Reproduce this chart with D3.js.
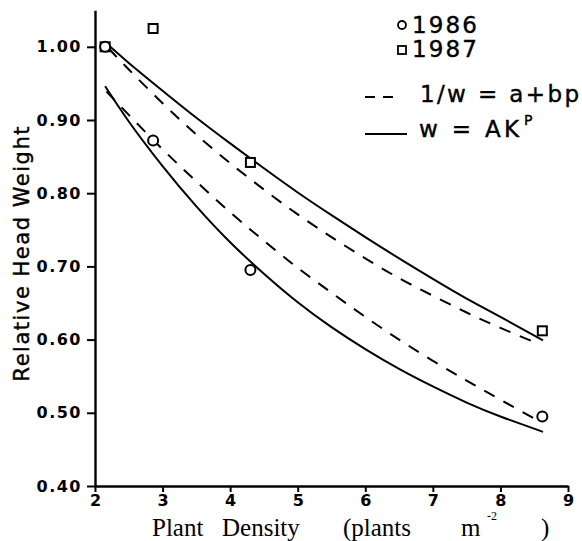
<!DOCTYPE html>
<html><head><meta charset="utf-8">
<script src="https://cdn.jsdelivr.net/npm/d3@7"></script>
<style>
body{margin:0;background:#fff;}
svg{display:block;}
</style></head>
<body>
<svg id="chart" width="582" height="541"></svg>
<script>
// ---- data ----
const densities = [2.15, 2.86, 4.30, 8.62];           // plants m^-2
const obs1986 = [1.000, 0.872, 0.695, 0.495];          // circles
const obs1987 = [1.000, 1.025, 0.842, 0.612];          // squares

// fitted curves (at these densities)
const fitDash1987X = [2.20, 2.5, 3, 3.5, 4, 4.5, 5, 5.5, 6, 6.5, 7, 7.5, 8, 8.57];
const fitDash1987Y = [0.998, 0.969, 0.923, 0.880, 0.841, 0.805, 0.771, 0.740, 0.711, 0.684, 0.660, 0.637, 0.616, 0.594];
const fitSolid1987X = [2.20, 2.5, 3, 3.5, 4, 4.5, 5, 5.5, 6, 6.5, 7, 7.5, 8, 8.63];
const fitSolid1987Y = [1.002, 0.978, 0.940, 0.903, 0.868, 0.834, 0.801, 0.770, 0.740, 0.711, 0.683, 0.656, 0.631, 0.599];
const fitDash1986X = [2.17, 2.5, 3, 3.5, 4, 4.5, 5, 5.5, 6, 6.5, 7, 7.5, 8, 8.60];
const fitDash1986Y = [0.939, 0.907, 0.860, 0.816, 0.774, 0.735, 0.698, 0.664, 0.631, 0.600, 0.571, 0.544, 0.518, 0.487];
const fitSolid1986X = [2.15, 2.5, 3, 3.5, 4, 4.5, 5, 5.5, 6, 6.5, 7, 7.5, 8, 8.63];
const fitSolid1986Y = [0.946, 0.898, 0.837, 0.782, 0.733, 0.690, 0.651, 0.617, 0.587, 0.560, 0.536, 0.514, 0.495, 0.474];

const xTicks = [2, 3, 4, 5, 6, 7, 8, 9];
const yTicks = [0.40, 0.50, 0.60, 0.70, 0.80, 0.90, 1.00];
const legendYears = ["1986", "1987"];
const legendFits = ["1/w = a+bp", "w = AK"];

// ---- drawing ----
const svg = d3.select("#chart");
const x = d3.scaleLinear().domain([2, 9]).range([95, 568]);
const y = d3.scaleLinear().domain([0.40, 1.05]).range([486, 10.2]);

const sans = "'DejaVu Sans', sans-serif";

const gx = svg.append("g").attr("transform", "translate(0,486)")
  .call(d3.axisBottom(x).tickValues(xTicks).tickFormat(d3.format("d")).tickSize(6).tickSizeOuter(0).tickPadding(3));
const gy = svg.append("g").attr("transform", "translate(95,0)")
  .call(d3.axisLeft(y).tickValues(yTicks).tickFormat(d3.format(".2f")).tickSize(8).tickSizeOuter(0).tickPadding(5));

[gx, gy].forEach(g => {
  g.select(".domain").attr("stroke", "#000").attr("stroke-width", 2.4);
  g.selectAll(".tick line").attr("stroke", "#000").attr("stroke-width", 2);
  g.selectAll(".tick text").attr("fill", "#000")
    .style("font-family", sans).style("font-weight", "bold").style("font-size", "16px");
});
gy.selectAll(".tick text").style("letter-spacing", "1.5px");

// curves
const line = d3.line().x(d => x(d[0])).y(d => y(d[1])).curve(d3.curveNatural);
const curves = [
  {xs: fitSolid1987X, ys: fitSolid1987Y, dash: null},
  {xs: fitDash1987X, ys: fitDash1987Y, dash: "12,10"},
  {xs: fitSolid1986X, ys: fitSolid1986Y, dash: null},
  {xs: fitDash1986X, ys: fitDash1986Y, dash: "12,10"}
];
curves.forEach(c => {
  svg.append("path")
    .datum(c.xs.map((v, i) => [v, c.ys[i]]))
    .attr("d", line)
    .attr("fill", "none").attr("stroke", "#000").attr("stroke-width", 2)
    .attr("stroke-dasharray", c.dash);
});

// observed points
svg.append("g").selectAll("rect")
  .data(densities.map((d, i) => [d, obs1987[i]]))
  .join("rect")
  .attr("x", d => x(d[0]) - 4.5).attr("y", d => y(d[1]) - 4.5)
  .attr("width", 9).attr("height", 9)
  .attr("fill", "#fff").attr("stroke", "#000").attr("stroke-width", 2);
svg.append("g").selectAll("circle")
  .data(densities.map((d, i) => [d, obs1986[i]]))
  .join("circle")
  .attr("cx", d => x(d[0])).attr("cy", d => y(d[1])).attr("r", 5)
  .attr("fill", "#fff").attr("stroke", "#000").attr("stroke-width", 2);

// axis titles
svg.append("text")
  .attr("transform", "translate(29,254) rotate(-90)")
  .attr("text-anchor", "middle")
  .attr("textLength", 255).attr("lengthAdjust", "spacing")
  .attr("stroke", "#000").attr("stroke-width", 0.4)
  .style("font-family", sans).style("font-size", "21px")
  .text("Relative Head Weight");

const xt = svg.append("text").attr("y", 536)
  .style("font-family", "'Liberation Serif', 'Times New Roman', serif").style("font-size", "25px");
xt.append("tspan").attr("x", 152).text("Plant");
xt.append("tspan").attr("x", 222).text("Density");
xt.append("tspan").attr("x", 343).text("(plants");
xt.append("tspan").attr("x", 461).text("m");
xt.append("tspan").attr("x", 487).attr("y", 520).style("font-size", "12px").text("-2");
xt.append("tspan").attr("x", 541).attr("y", 536).text(")");

// legend
const lg = svg.append("g").style("font-family", sans).style("font-size", "23px")
  .attr("stroke", "#000").attr("stroke-width", 0.4);
lg.append("circle").attr("cx", 402).attr("cy", 25).attr("r", 4)
  .attr("fill", "none").attr("stroke", "#000").attr("stroke-width", 1.8);
lg.append("rect").attr("x", 398).attr("y", 46).attr("width", 8).attr("height", 8)
  .attr("fill", "none").attr("stroke", "#000").attr("stroke-width", 1.8);
lg.append("text").attr("x", 412).attr("y", 33).attr("textLength", 65).attr("lengthAdjust", "spacing").text(legendYears[0]);
lg.append("text").attr("x", 412).attr("y", 57).attr("textLength", 65).attr("lengthAdjust", "spacing").text(legendYears[1]);
lg.append("line").attr("x1", 365).attr("x2", 394).attr("y1", 97).attr("y2", 97)
  .attr("stroke", "#000").attr("stroke-width", 2).attr("stroke-dasharray", "10,8");
lg.append("line").attr("x1", 365).attr("x2", 407).attr("y1", 134).attr("y2", 134)
  .attr("stroke", "#000").attr("stroke-width", 2);
lg.append("text").attr("x", 420).attr("y", 102).attr("textLength", 159).attr("lengthAdjust", "spacing").text(legendFits[0]);
lg.append("text").attr("x", 419).attr("y", 137).attr("textLength", 100).attr("lengthAdjust", "spacing").text(legendFits[1]);
lg.append("text").attr("x", 524).attr("y", 125).style("font-size", "14px").text("P");
</script>
</body></html>
